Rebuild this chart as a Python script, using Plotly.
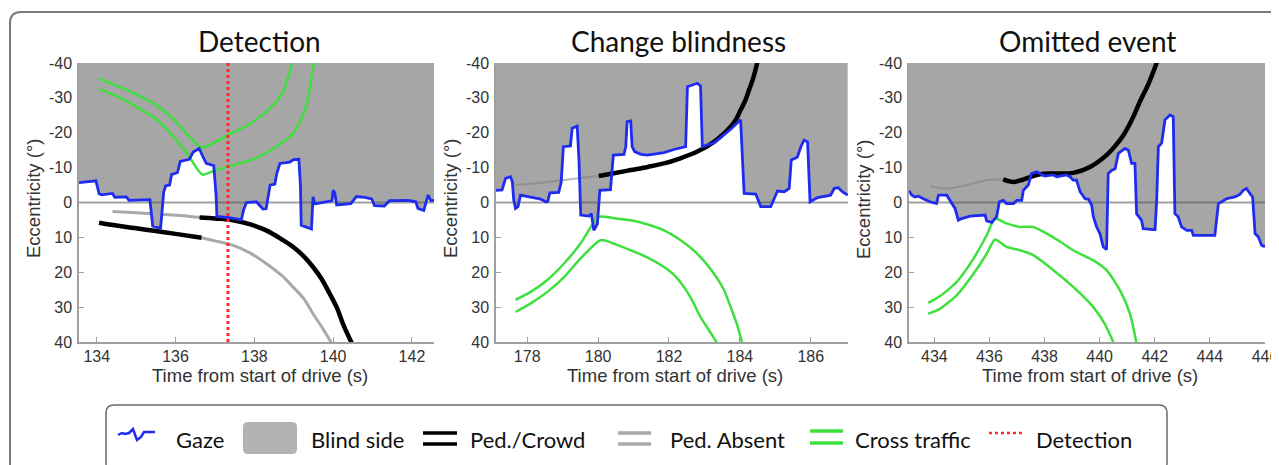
import plotly.graph_objects as go

W, H = 1279, 465
OFF = 8  # browser body margin: figure is drawn 8px right/down of the window origin

# ---------------- data ----------------
titles = ["Detection", "Change blindness", "Omitted event"]
x_ranges = [[133.55, 142.56], [177.12, 187.05], [433.08, 446.0]]
x_ticks = [[134, 136, 138, 140, 142], [178, 180, 182, 184, 186],
           [434, 436, 438, 440, 442, 444, 446]]
y_ticks = [-40, -30, -20, -10, 0, 10, 20, 30, 40]
y_ticklabels = ["-40", "-30", "-20", "-10", "0", "10", "20", "30", "40"]

# Panel 1: Detection
det_gaze_t = [133.55, 133.93, 133.98, 134.06, 134.12, 134.40, 134.46, 134.75, 134.82, 135.35,
              135.42, 135.62, 135.70, 135.75, 135.85, 135.90, 136.05, 136.12, 136.35, 136.45,
              136.60, 136.70, 136.78, 136.97, 137.03, 137.05, 137.40, 137.67, 137.73, 137.80,
              138.05, 138.15, 138.22, 138.30, 138.35, 138.40, 138.52, 138.57, 138.65, 138.90,
              139.00, 139.13, 139.17, 139.19, 139.45, 139.49, 139.53, 139.97, 140.00, 140.04,
              140.09, 140.30, 140.45, 140.59, 140.80, 140.98, 141.05, 141.30, 141.43, 141.90,
              142.10, 142.15, 142.30, 142.41, 142.48, 142.56]
det_gaze_y = [-5.7, -6.3, -6.2, -2.5, -2.2, -2.6, -1.5, -1.6, -0.6, -0.8,
              6.8, 7.4, -3.0, -4.8, -5.0, -8.0, -8.6, -11.8, -12.4, -14.5,
              -15.5, -13.0, -11.2, -10.6, -2.0, 4.0, 4.4, 5.0, 2.0, 0.0,
              -0.2, 1.0, 1.9, 1.8, -2.2, -5.0, -5.3, -8.3, -11.2, -11.6,
              -12.3, -12.4, -5.0, 6.5, 7.6, -1.6, 0.4, -0.5, -3.5, -2.8,
              0.7, 0.5, 0.3, -1.7, -1.5, -1.0, 0.9, 1.0, -0.5, -0.6,
              -0.2, 1.7, 2.3, -2.1, -0.5, -0.6]
det_cross1_t = [134.06, 134.5, 135.0, 135.5, 135.9, 136.3, 136.66, 137.0, 137.33, 137.8, 138.3, 138.7, 138.96]
det_cross1_y = [-35.5, -33.5, -31.0, -28.0, -24.5, -19.5, -15.7, -17.3, -19.3, -22.0, -26.0, -31.0, -40.0]
det_cross2_t = [134.06, 134.5, 135.0, 135.5, 135.9, 136.3, 136.68, 137.0, 137.5, 138.0, 138.5, 139.0, 139.3, 139.51]
det_cross2_y = [-32.5, -30.5, -27.5, -24.0, -19.5, -14.0, -8.0, -9.2, -10.8, -12.5, -15.5, -20.0, -27.0, -40.0]
det_pedA_absent_t = [134.40, 134.9, 135.5, 136.1, 136.66]
det_pedA_absent_y = [2.6, 2.9, 3.3, 3.7, 4.3]
det_pedA_present_t = [136.61, 137.0, 137.46, 137.9, 138.30, 138.7, 138.98, 139.25, 139.49, 139.7, 139.91, 140.1, 140.25, 140.48]
det_pedA_present_y = [4.3, 4.6, 5.1, 6.3, 8.0, 10.6, 12.7, 15.4, 18.5, 21.8, 26.1, 30.3, 34.8, 40.5]
det_pedB_present_t = [134.06, 134.5, 135.0, 135.5, 136.0, 136.66]
det_pedB_present_y = [5.8, 6.6, 7.4, 8.2, 9.0, 10.1]
det_pedB_absent_t = [136.66, 137.0, 137.46, 137.9, 138.30, 138.7, 138.98, 139.25, 139.49, 139.7, 139.97]
det_pedB_absent_y = [10.1, 11.0, 12.3, 14.5, 17.5, 21.0, 24.2, 27.5, 31.9, 35.5, 40.5]
detection_time = 137.33

# Panel 2: Change blindness
cb_gaze_t = [177.12, 177.29, 177.39, 177.53, 177.58, 177.62, 177.67, 177.74, 177.81, 178.09,
             178.38, 178.52, 178.58, 178.64, 178.89, 178.96, 179.02, 179.22, 179.27, 179.41,
             179.46, 179.51, 179.74, 179.81, 179.88, 179.98, 180.02, 180.05, 180.35, 180.43,
             180.73, 180.78, 180.82, 180.92, 180.96, 181.03, 181.21, 181.39, 181.58, 181.86,
             182.14, 182.47, 182.52, 182.80, 182.89, 182.94, 183.27, 183.55, 183.74, 184.02,
             184.12, 184.45, 184.54, 184.59, 184.87, 184.96, 185.06, 185.25, 185.39, 185.45,
             185.62, 185.72, 185.81, 185.91, 185.98, 186.19, 186.38, 186.56, 186.66, 186.77,
             186.89, 187.04]
cb_gaze_y = [-3.5, -3.6, -6.9, -7.4, -6.0, -0.7, 1.7, 1.2, -2.1, -1.6,
             -1.0, -0.2, -0.3, -2.8, -2.9, -5.9, -16.0, -16.2, -21.3, -21.9,
             -12.2, 3.6, 3.9, 3.2, 8.0, 6.2, 1.2, -3.5, -3.7, -13.6,
             -13.8, -16.0, -23.2, -23.4, -16.0, -14.6, -13.8, -13.6, -13.9, -14.3,
             -15.2, -16.0, -33.2, -34.2, -33.4, -16.0, -17.1, -19.3, -21.0, -23.7,
             -2.6, -2.4, -0.2, 1.2, 1.2, -0.7, -3.3, -3.1, -4.0, -12.2,
             -13.0, -16.0, -17.9, -17.4, -0.2, -1.4, -1.8, -2.1, -4.0, -4.3,
             -3.1, -2.1]
cb_cross1_t = [177.67, 178.09, 178.56, 179.04, 179.50, 180.02, 180.45, 180.92, 181.40, 181.86, 182.30, 182.80, 183.27, 183.55, 183.74, 183.92, 184.07]
cb_cross1_y = [27.9, 25.7, 22.3, 17.5, 11.8, 4.1, 4.5, 5.1, 6.3, 8.0, 10.6, 14.7, 20.4, 25.0, 30.0, 35.0, 40.5]
cb_cross2_t = [177.67, 178.09, 178.56, 179.04, 179.50, 180.07, 180.50, 180.92, 181.40, 181.86, 182.15, 182.42, 182.65, 182.89, 183.12, 183.37]
cb_cross2_y = [31.4, 29.0, 25.7, 21.4, 16.1, 10.8, 12.0, 13.7, 15.8, 18.5, 20.8, 24.2, 28.0, 32.9, 36.5, 40.5]
cb_ped_absent_t = [177.67, 178.3, 178.9, 179.5, 180.02]
cb_ped_absent_y = [-5.0, -5.6, -6.3, -7.0, -7.6]
cb_ped_present_t = [180.02, 180.45, 180.92, 181.40, 181.86, 182.30, 182.80, 183.27, 183.55, 183.74, 183.90, 184.02, 184.15, 184.26, 184.38, 184.50]
cb_ped_present_y = [-7.6, -8.4, -9.3, -10.2, -11.2, -12.6, -14.6, -17.4, -19.8, -21.7, -24.0, -26.5, -29.2, -32.3, -35.8, -40.5]

# Panel 3: Omitted event
oe_gaze_t = [433.08, 433.18, 433.30, 433.43, 433.60, 433.84, 434.08, 434.15, 434.45, 434.57,
             434.75, 434.87, 434.99, 435.30, 435.66, 435.84, 435.90, 436.08, 436.26, 436.36,
             436.50, 436.62, 436.87, 436.99, 437.17, 437.23, 437.41, 437.53, 437.71, 437.89,
             438.00, 438.32, 438.44, 438.80, 438.92, 439.04, 439.16, 439.29, 439.47, 439.60,
             439.71, 439.77, 439.89, 440.01, 440.13, 440.25, 440.31, 440.43, 440.56, 440.68,
             440.92, 441.04, 441.16, 441.28, 441.34, 441.52, 441.58, 441.95, 442.01, 442.07,
             442.13, 442.25, 442.37, 442.55, 442.67, 442.73, 442.85, 442.97, 443.16, 443.34,
             443.40, 444.18, 444.31, 444.43, 444.61, 444.91, 445.09, 445.21, 445.33, 445.45,
             445.55, 445.64, 445.76, 445.88, 446.00]
oe_gaze_y = [-3.4, -2.1, -1.6, -1.8, -1.1, -0.2, 0.3, -2.1, -2.1, -0.7,
             1.7, 5.1, 4.6, 3.9, 3.6, 3.6, 5.3, 5.7, 4.1, -0.2,
             -0.6, 0.3, 0.3, -0.6, -0.6, -3.5, -5.0, -8.3, -8.8, -7.9,
             -7.6, -7.9, -7.4, -7.9, -7.4, -6.4, -6.4, -3.1, -1.1, -0.9,
             0.8, 4.1, 7.0, 8.9, 12.7, 13.5, -8.3, -9.2, -9.7, -14.1,
             -15.5, -15.0, -11.2, -11.2, 3.2, 5.1, 7.5, 7.8, 7.8, -0.7,
             -16.0, -17.0, -23.7, -25.1, -24.6, 3.2, 4.1, 7.0, 8.0, 8.0,
             9.4, 9.4, 0.3, -0.2, -1.1, -1.6, -2.3, -3.5, -4.0, -2.6,
             -1.6, 8.9, 9.9, 12.3, 12.7]
oe_cross1_t = [433.78, 434.20, 434.81, 435.42, 435.90, 436.20, 436.62, 437.11, 437.59, 438.08, 438.56, 439.04, 439.77, 440.25, 440.74, 441.10, 441.34]
oe_cross1_y = [28.8, 26.9, 22.8, 16.1, 9.4, 4.6, 6.0, 7.0, 7.0, 8.9, 11.2, 13.7, 16.6, 19.4, 25.2, 31.9, 40.5]
oe_cross2_t = [433.78, 434.20, 434.81, 435.42, 435.90, 436.20, 436.62, 437.11, 437.59, 438.32, 439.04, 439.77, 440.20, 440.52]
oe_cross2_y = [31.9, 30.5, 26.6, 20.4, 14.7, 10.6, 12.7, 13.7, 15.1, 19.4, 24.2, 30.0, 35.0, 40.5]
oe_ped_absent_t = [433.84, 434.45, 435.17, 435.90, 436.50]
oe_ped_absent_y = [-4.7, -4.0, -5.0, -6.4, -6.6]
oe_ped_present_t = [436.50, 436.87, 437.23, 437.83, 438.44, 439.04, 439.65, 440.25, 440.56, 440.86, 441.16, 441.46, 441.77, 442.09]
oe_ped_present_y = [-6.6, -5.9, -6.6, -8.1, -8.3, -8.5, -10.2, -13.6, -16.2, -19.3, -23.6, -28.9, -34.0, -40.5]

# ---------------- styles ----------------
BLUE = "#1f2cf0"
GREEN = "#3ee03e"
FILL = "#a6a6a6"
ABSENT = "#a9a9a9"
ABSENT_FAINT = "rgba(125,125,125,0.55)"
RED = "#ff2a2a"
AXC = "#a0a0a0"
TICKFONT = dict(family="Liberation Sans, Arial, sans-serif", size=16, color="#333333")
LABFONT = dict(family="Liberation Sans, Arial, sans-serif", size=18.5, color="#333333")
TITLEFONT = dict(family="Lato, sans-serif", size=28, color="#111111")
LEGFONT = dict(family="Lato, sans-serif", size=22, color="#111111")

# layout positions in window pixels
panel_px = [(79, 434), (496, 848), (909, 1265)]
plot_top, plot_bot = 63, 342


def px(x):
    return (x - OFF) / W


def py(y):
    return 1 - (y - OFF) / H


fig = go.Figure()

panels = [
    dict(gaze=(det_gaze_t, det_gaze_y),
         cross=[(det_cross1_t, det_cross1_y), (det_cross2_t, det_cross2_y)],
         absent=[(det_pedA_absent_t, det_pedA_absent_y), (det_pedB_absent_t, det_pedB_absent_y)],
         absent_color=ABSENT, absent_w=3,
         present=[(det_pedA_present_t, det_pedA_present_y), (det_pedB_present_t, det_pedB_present_y)],
         detect=detection_time),
    dict(gaze=(cb_gaze_t, cb_gaze_y),
         cross=[(cb_cross1_t, cb_cross1_y), (cb_cross2_t, cb_cross2_y)],
         absent=[(cb_ped_absent_t, cb_ped_absent_y)], absent_color=ABSENT_FAINT, absent_w=2,
         present=[(cb_ped_present_t, cb_ped_present_y)], detect=None),
    dict(gaze=(oe_gaze_t, oe_gaze_y),
         cross=[(oe_cross1_t, oe_cross1_y), (oe_cross2_t, oe_cross2_y)],
         absent=[(oe_ped_absent_t, oe_ped_absent_y)], absent_color=ABSENT_FAINT, absent_w=2,
         present=[(oe_ped_present_t, oe_ped_present_y)], detect=None),
]

for i, p in enumerate(panels):
    n = "" if i == 0 else str(i + 1)
    xa, ya = "x" + n, "y" + n
    gt, gy = p["gaze"]
    # blind side fill: from gaze to the -40 edge
    fig.add_trace(go.Scatter(x=list(gt) + [gt[-1], gt[0]], y=list(gy) + [y_ticks[0], y_ticks[0]],
                             fill="toself", fillcolor=FILL, mode="lines", line=dict(width=0),
                             xaxis=xa, yaxis=ya, showlegend=False, hoverinfo="skip"))
    # zero line
    fig.add_trace(go.Scatter(x=x_ranges[i], y=[0, 0], mode="lines",
                             line=dict(color="rgba(85,85,85,0.55)", width=2),
                             xaxis=xa, yaxis=ya, showlegend=False, hoverinfo="skip"))
    for (t, y) in p["absent"]:
        fig.add_trace(go.Scatter(x=t, y=y, mode="lines",
                                 line=dict(color=p["absent_color"], width=p["absent_w"], shape="spline"),
                                 xaxis=xa, yaxis=ya, showlegend=False))
    for (t, y) in p["present"]:
        fig.add_trace(go.Scatter(x=t, y=y, mode="lines",
                                 line=dict(color="black", width=4.5, shape="spline"),
                                 xaxis=xa, yaxis=ya, showlegend=False))
    for (t, y) in p["cross"]:
        fig.add_trace(go.Scatter(x=t, y=y, mode="lines",
                                 line=dict(color=GREEN, width=2.5, shape="spline", smoothing=0.6),
                                 xaxis=xa, yaxis=ya, showlegend=False))
    fig.add_trace(go.Scatter(x=gt, y=gy, mode="lines", line=dict(color=BLUE, width=2.8),
                             xaxis=xa, yaxis=ya, showlegend=False))
    if p["detect"] is not None:
        fig.add_trace(go.Scatter(x=[p["detect"], p["detect"]], y=[y_ticks[0], y_ticks[-1]],
                                 mode="lines", line=dict(color=RED, width=3, dash="dot"),
                                 xaxis=xa, yaxis=ya, showlegend=False))

    l, r = panel_px[i]
    fig.update_layout(**{
        "xaxis" + n: dict(domain=[px(l), px(r)], range=x_ranges[i], tickvals=x_ticks[i],
                          ticks="inside", ticklen=5, tickcolor=AXC, showline=True, linecolor=AXC,
                          linewidth=1.5, showgrid=False, zeroline=False, tickfont=TICKFONT,
                          anchor=ya, fixedrange=True, automargin=False,
                          ticklabeloverflow="allow", ticklabelstandoff=-1),
        "yaxis" + n: dict(domain=[py(plot_bot), py(plot_top)], range=[40, -40], tickvals=y_ticks,
                          ticktext=y_ticklabels, ticks="inside", ticklen=5, tickcolor=AXC,
                          showline=True, linecolor=AXC, linewidth=1.5, showgrid=False,
                          zeroline=False, tickfont=TICKFONT, anchor=xa, ticklabelstandoff=2,
                          fixedrange=True, automargin=False, ticklabeloverflow="allow"),
    })

annotations = []
title_x = [259.5, 678.5, 1087.5]
for i, t in enumerate(titles):
    annotations.append(dict(text=t, x=px(title_x[i]), y=py(41), xref="paper", yref="paper",
                            xanchor="center", yanchor="middle", showarrow=False, font=TITLEFONT))
    l, r = panel_px[i]
    annotations.append(dict(text="Time from start of drive (s)", x=px((l + r) / 2 + 3), y=py(375),
                            xref="paper", yref="paper", xanchor="center", yanchor="middle",
                            showarrow=False, font=LABFONT))
    annotations.append(dict(text="Eccentricity (°)", x=px(l - 46), y=py(199), xref="paper",
                            yref="paper", xanchor="center", yanchor="middle", textangle=-90,
                            showarrow=False, font=LABFONT))

# legend (drawn manually to reproduce the boxed layout)
legend_items = ["Gaze", "Blind side", "Ped./Crowd", "Ped. Absent", "Cross traffic", "Detection"]
legend_text_x = [174, 309, 468, 668, 853, 1034]
for lab, lx in zip(legend_items, legend_text_x):
    annotations.append(dict(text=lab, x=px(lx), y=py(439), xref="paper", yref="paper",
                            xanchor="left", yanchor="middle", showarrow=False, font=LEGFONT))


def rrect(x0, y0, x1, y1, r):
    return (f"M {px(x0 + r)},{py(y0)} L {px(x1 - r)},{py(y0)} Q {px(x1)},{py(y0)} {px(x1)},{py(y0 + r)} "
            f"L {px(x1)},{py(y1 - r)} Q {px(x1)},{py(y1)} {px(x1 - r)},{py(y1)} "
            f"L {px(x0 + r)},{py(y1)} Q {px(x0)},{py(y1)} {px(x0)},{py(y1 - r)} "
            f"L {px(x0)},{py(y0 + r)} Q {px(x0)},{py(y0)} {px(x0 + r)},{py(y0)} Z")


def path(pts):
    return "M " + " L ".join(f"{px(a)},{py(b)}" for a, b in pts)


shapes = [
    # outer frame
    dict(type="path", xref="paper", yref="paper",
         path=f"M {px(10)},{py(480)} L {px(10)},{py(23)} Q {px(10)},{py(12)} {px(21)},{py(12)} L {px(1300)},{py(12)}",
         line=dict(color="#7a7a7a", width=2)),
    # legend box
    dict(type="path", xref="paper", yref="paper", path=rrect(106, 405, 1167, 472, 8),
         line=dict(color="#6a6a6a", width=1.5), fillcolor="rgba(0,0,0,0)"),
    # gaze icon
    dict(type="path", xref="paper", yref="paper",
         path=path([(118, 435), (122, 433), (125, 434), (129, 433), (133, 429), (137, 440),
                    (141, 437), (144, 432), (149, 432), (155, 432)]),
         line=dict(color=BLUE, width=2.5)),
    # blind side box
    dict(type="path", xref="paper", yref="paper", path=rrect(243, 422, 297, 454, 5),
         line=dict(width=0), fillcolor="#b3b3b3"),
    # ped/crowd icon
    dict(type="line", xref="paper", yref="paper", x0=px(423), x1=px(457), y0=py(433), y1=py(433),
         line=dict(color="black", width=3.5)),
    dict(type="line", xref="paper", yref="paper", x0=px(423), x1=px(457), y0=py(444), y1=py(444),
         line=dict(color="black", width=3.5)),
    # ped absent icon
    dict(type="line", xref="paper", yref="paper", x0=px(618), x1=px(651), y0=py(433), y1=py(433),
         line=dict(color=ABSENT, width=3.5)),
    dict(type="line", xref="paper", yref="paper", x0=px(618), x1=px(651), y0=py(444), y1=py(444),
         line=dict(color=ABSENT, width=3.5)),
    # cross traffic icon
    dict(type="line", xref="paper", yref="paper", x0=px(810), x1=px(843), y0=py(431), y1=py(431),
         line=dict(color=GREEN, width=3.5)),
    dict(type="line", xref="paper", yref="paper", x0=px(810), x1=px(843), y0=py(443), y1=py(443),
         line=dict(color=GREEN, width=3.5)),
    # detection icon
    dict(type="line", xref="paper", yref="paper", x0=px(989), x1=px(1023), y0=py(433), y1=py(433),
         line=dict(color=RED, width=2.5, dash="dot")),
]

fig.update_layout(width=W, height=H, autosize=False, margin=dict(l=0, r=0, t=0, b=0, pad=0),
                  paper_bgcolor="white", plot_bgcolor="white", showlegend=False,
                  annotations=annotations, shapes=shapes)

fig.write_html("out.html", config={"displayModeBar": False})
